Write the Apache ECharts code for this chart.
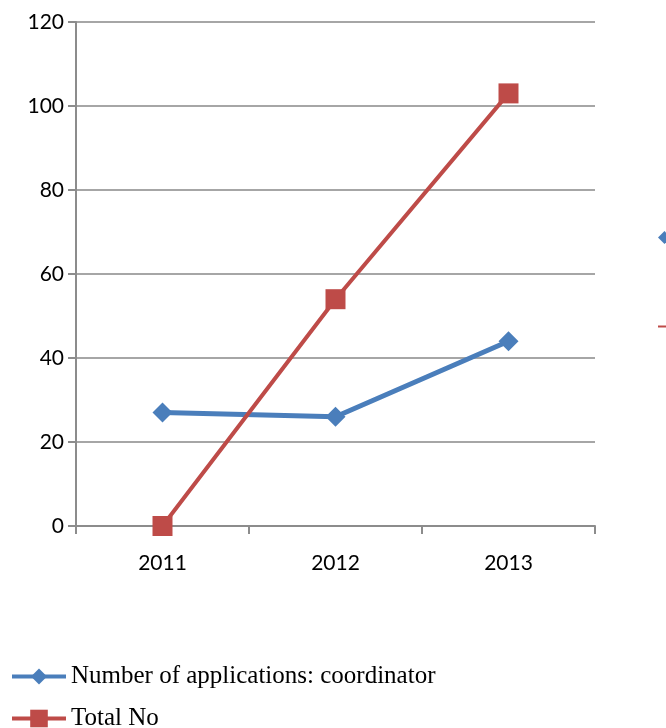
<!DOCTYPE html>
<html><head><meta charset="utf-8">
<script src="https://cdn.jsdelivr.net/npm/echarts@6/dist/echarts.min.js"></script>
<style>html,body{margin:0;padding:0;background:#fff}#c{width:666px;height:728px}</style>
</head><body><div id="c"></div>
<script>
const categories = ['2011', '2012', '2013'];
const coordinator = [27, 26, 44];
const totalNo = [0, 54, 103];
const yTicks = [0, 20, 40, 60, 80, 100, 120];
const seriesNames = ['Number of applications: coordinator', 'Total No'];

const chart = echarts.init(document.getElementById('c'));
const blue = '#4a7ebb', red = '#be4b48';
const legendText = {fontFamily: 'Liberation Serif', fontSize: 25, color: '#000'};
chart.setOption({
  animation: false,
  grid: {left: 76, right: 71, top: 22, bottom: 202},
  xAxis: {
    type: 'category', data: categories, boundaryGap: true,
    axisLine: {lineStyle: {color: '#8c8c8c', width: 2}},
    axisTick: {show: true, length: 8, lineStyle: {color: '#8c8c8c', width: 2}},
    axisLabel: {color: '#000', fontFamily: 'Lato', fontSize: 21, margin: 27}
  },
  yAxis: {
    type: 'value', min: yTicks[0], max: yTicks[yTicks.length - 1], interval: 20,
    axisLine: {show: true, lineStyle: {color: '#8c8c8c', width: 2}},
    axisTick: {show: true, length: 8, lineStyle: {color: '#8c8c8c', width: 2}},
    axisLabel: {color: '#000', fontFamily: 'Lato', fontSize: 21, margin: 12},
    splitLine: {lineStyle: {color: '#a6a6a6', width: 2}}
  },
  legend: [
    {
      left: 10, top: 664, padding: 0, itemWidth: 54, itemHeight: 20,
      data: [seriesNames[0]], textStyle: legendText,
      lineStyle: {width: 4}
    },
    {
      left: 10, top: 706, padding: 0, itemWidth: 54, itemHeight: 22,
      data: [seriesNames[1]], textStyle: legendText,
      lineStyle: {width: 4}
    },
    {
      left: 653, top: 220, itemWidth: 13, itemHeight: 13,
      data: [{name: seriesNames[0], icon: 'diamond'}],
      textStyle: legendText
    },
    {
      left: 653, top: 309, itemWidth: 14, itemHeight: 2,
      data: [{name: seriesNames[1], icon: 'rect'}],
      textStyle: legendText
    }
  ],
  series: [
    {
      name: seriesNames[0], type: 'line', data: coordinator,
      symbol: 'diamond', symbolSize: 20,
      lineStyle: {color: blue, width: 5},
      itemStyle: {color: blue}
    },
    {
      name: seriesNames[1], type: 'line', data: totalNo,
      symbol: 'rect', symbolSize: 20,
      lineStyle: {color: red, width: 4},
      itemStyle: {color: red}
    }
  ]
});
</script></body></html>
